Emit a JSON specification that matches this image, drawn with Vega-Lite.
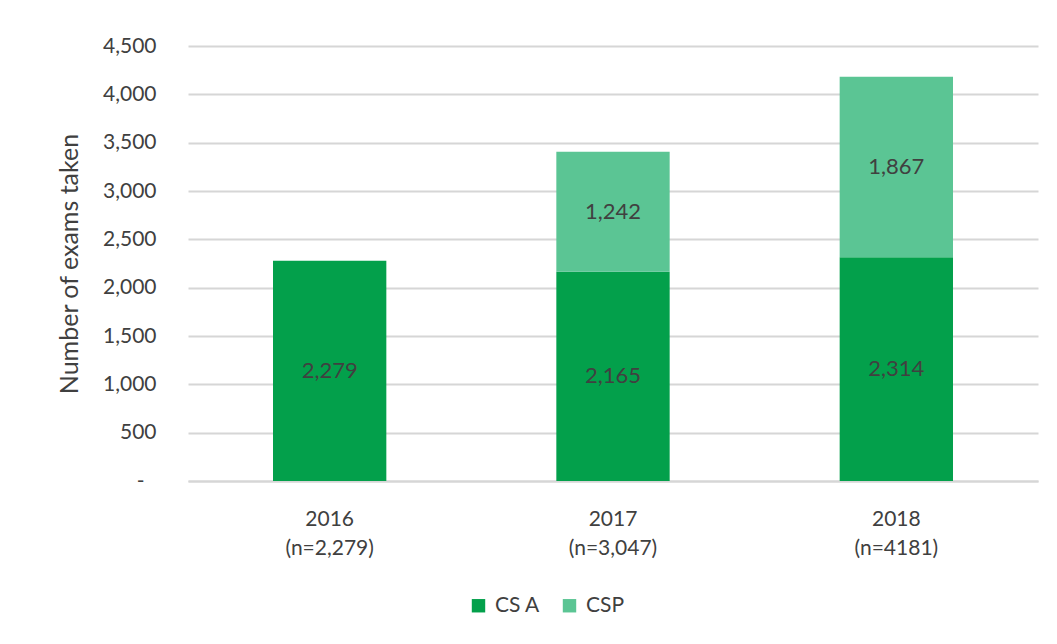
{
  "$schema": "https://vega.github.io/schema/vega-lite/v6.json",
  "width": 850,
  "height": 435,
  "autosize": {"type": "none"},
  "padding": {"left": 188, "top": 46, "right": 19, "bottom": 163},
  "background": "white",
  "config": {
    "view": {"stroke": null},
    "font": "Lato",
    "axis": {"labelFont": "Lato", "titleFont": "Lato"}
  },
  "data": {
    "values": [
      {"year": "2016", "label": "2016\n(n=2,279)", "course": "CS A", "count": 2279},
      {"year": "2017", "label": "2017\n(n=3,047)", "course": "CS A", "count": 2165},
      {"year": "2017", "label": "2017\n(n=3,047)", "course": "CSP", "count": 1242},
      {"year": "2018", "label": "2018\n(n=4181)", "course": "CS A", "count": 2314},
      {"year": "2018", "label": "2018\n(n=4181)", "course": "CSP", "count": 1867}
    ]
  },
  "encoding": {
    "x": {
      "field": "label",
      "type": "nominal",
      "sort": null,
      "scale": {"paddingInner": 0.6, "paddingOuter": 0.3},
      "axis": {
        "title": null,
        "labelAngle": 0,
        "labelExpr": "split(datum.label, '\\n')",
        "labelFontSize": 21,
        "labelColor": "#404040",
        "labelLineHeight": 29,
        "labelPadding": 27,
        "ticks": false,
        "domainColor": "#d6d6d6",
        "domainWidth": 2
      }
    },
    "y": {
      "field": "count",
      "type": "quantitative",
      "aggregate": "sum",
      "stack": "zero",
      "scale": {"domain": [0, 4500], "nice": false},
      "axis": {
        "title": "Number of exams taken",
        "titleFontSize": 25,
        "titleFontWeight": "normal",
        "titleColor": "#404040",
        "titlePadding": 20,
        "values": [0, 500, 1000, 1500, 2000, 2500, 3000, 3500, 4000, 4500],
        "labelExpr": "datum.value == 0 ? '-' : format(datum.value, ',')",
        "labelFontSize": 21,
        "labelColor": "#404040",
        "labelPadding": {"condition": {"test": "datum.value == 0", "value": 44}, "value": 32},
        "ticks": false,
        "domain": false,
        "gridColor": "#d6d6d6",
        "gridWidth": 2
      }
    }
  },
  "layer": [
    {
      "mark": {"type": "bar"},
      "encoding": {
        "color": {
          "field": "course",
          "type": "nominal",
          "scale": {"domain": ["CS A", "CSP"], "range": ["#03A04B", "#5BC594"]},
          "legend": {
            "title": null,
            "orient": "none",
            "direction": "horizontal",
            "legendX": 280,
            "legendY": 549,
            "symbolType": "square",
            "symbolSize": 180,
            "symbolStrokeWidth": 0,
            "labelFontSize": 21,
            "labelColor": "#404040",
            "columnPadding": 18,
            "labelOffset": 6
          }
        },
        "order": {"field": "course", "sort": "ascending"}
      }
    },
    {
      "mark": {"type": "text", "fontSize": 22, "color": "#404040"},
      "encoding": {
        "y": {
          "field": "count",
          "type": "quantitative",
          "aggregate": "sum",
          "stack": "zero",
          "bandPosition": 0.5
        },
        "text": {"field": "count", "aggregate": "sum", "format": ","},
        "detail": {"field": "course"},
        "order": {"field": "course", "sort": "ascending"}
      }
    }
  ]
}
